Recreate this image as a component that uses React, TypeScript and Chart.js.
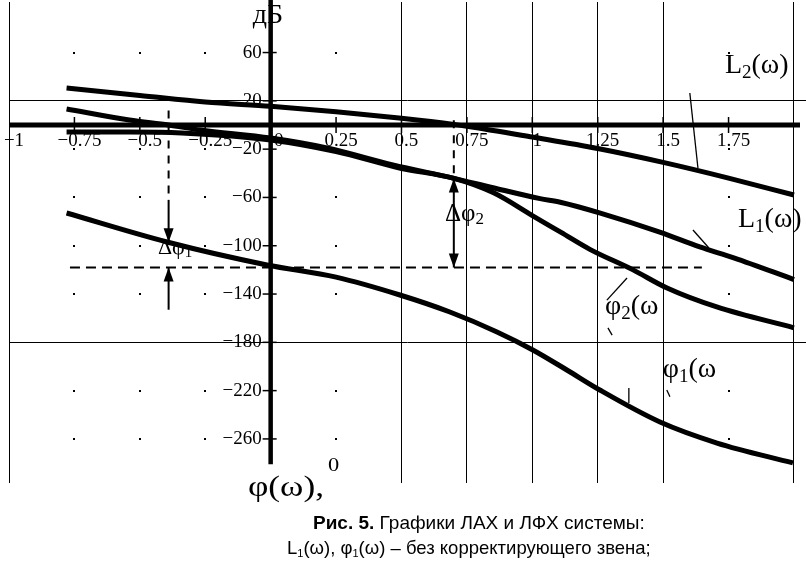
import React, { useEffect, useRef } from 'react';
import { Chart, registerables } from 'chart.js';

Chart.register(...registerables);

// ---- axis ticks ----
const xTicks = [-1, -0.75, -0.5, -0.25, 0, 0.25, 0.5, 0.75, 1, 1.25, 1.5, 1.75, 2];
const xTickLabels = ['−1', '−0.75', '−0.5', '−0.25', '0', '0.25', '0.5', '0.75', '1', '1.25', '1.5', '1.75', ''];
const xGridValues = [-1, 0.5, 0.75, 1, 1.25, 1.5, 2];
const yTicks = [60, 20, -20, -60, -100, -140, -180, -220, -260];
const yTickLabels = ['60', '20', '−20', '−60', '−100', '−140', '−180', '−220', '−260'];
const yGridValues = [20, -180];

// ---- series (x = lg ω) ----
const L2x = [-0.78, -0.5, -0.25, 0, 0.25, 0.5, 0.7, 0.75, 1, 1.25, 1.5, 1.75, 2];
const L2y = [30.6, 24.5, 19, 15.5, 11, 5.5, 0.5, -1, -10, -19.5, -31, -44, -58];

const L1x = [-0.78, -0.54, -0.39, -0.27, 0, 0.215, 0.467, 0.697, 0.85, 1.03, 1.107, 1.26, 1.49, 1.64, 1.77, 2.0];
const L1y = [13.3, 4.1, 0, -4.1, -10.8, -19, -33, -44, -52, -61, -64, -73, -89, -101, -110, -128];

const P2x = [-0.78, -0.54, -0.34, 0, 0.25, 0.5, 0.697, 0.85, 1.0, 1.11, 1.22, 1.385, 1.515, 1.705, 2.0];
const P2y = [-5.8, -5.8, -6.6, -12.4, -22, -36, -44, -56, -75, -89, -103, -120, -135, -150.7, -168];

const P1x = [-0.78, -0.396, -0.014, 0.25, 0.494, 0.685, 0.865, 1.002, 1.132, 1.258, 1.488, 1.706, 1.996];
const P1y = [-72.9, -96.9, -115.9, -126, -140.8, -154.9, -171.4, -186.3, -202.9, -219.5, -246, -263.4, -279.9];

// crossover frequencies and reference phase level
const wc1 = -0.39;
const wc2 = 0.7;
const phiRef = -118;
const refFrom = -0.767;
const refTo = 1.648;

const interp = (xs: number[], ys: number[], v: number) => {
  for (let i = 0; i < xs.length - 1; i++) {
    if (v >= xs[i] && v <= xs[i + 1]) {
      const t = (v - xs[i]) / (xs[i + 1] - xs[i]);
      return ys[i] + t * (ys[i + 1] - ys[i]);
    }
  }
  return ys[ys.length - 1];
};

type Run = { t: string; s: number; dy?: number; dx?: number };
const textLabels: { runs: Run[]; x: number; y: number; sx?: number }[] = [
  { runs: [{ t: 'L', s: 28 }, { t: '2', s: 19, dy: 7 }, { t: '(ω)', s: 28 }], x: 1.736, y: 48.9 },
  { runs: [{ t: 'L', s: 28 }, { t: '1', s: 19, dy: 7 }, { t: '(ω)', s: 28 }], x: 1.786, y: -78.7 },
  { runs: [{ t: 'φ', s: 28 }, { t: '2', s: 19, dy: 7 }, { t: '(ω', s: 28 }], x: 1.278, y: -150.7 },
  { runs: [{ t: 'φ', s: 28 }, { t: '1', s: 19, dy: 7 }, { t: '(ω', s: 28 }], x: 1.499, y: -202.9 },
  { runs: [{ t: 'Δφ', s: 22 }, { t: '1', s: 15, dy: 5 }], x: -0.431, y: -101.9 },
  { runs: [{ t: 'Δφ', s: 25 }, { t: '2', s: 17, dy: 6 }], x: 0.666, y: -73.7 },
  { runs: [{ t: 'дБ', s: 28 }], x: -0.068, y: 90.3 },
  { runs: [{ t: 'φ(ω),', s: 30 }, { t: '0', s: 19, dy: -22, dx: 4 }], x: -0.087, y: -300.6, sx: 1.18 },
];

const leaders = [
  [1.602, 26.5, 1.633, -35.6],
  [1.614, -87, 1.675, -101.9],
  [1.285, -145, 1.362, -126.7],
  [1.289, -168, 1.305, -174],
  [1.369, -217.8, 1.369, -230.2],
  [1.514, -219.5, 1.526, -225],
];

const SERIF = '"Liberation Serif", "Times New Roman", serif';

const decor = {
  id: 'decor',
  afterDraw(chart: any) {
    const { ctx, chartArea } = chart;
    const xs = chart.scales.x;
    const ys = chart.scales.y;
    const px = (v: number) => xs.getPixelForValue(v);
    const py = (v: number) => ys.getPixelForValue(v);
    const x0 = px(0);
    const y0 = py(0);
    ctx.save();
    ctx.fillStyle = '#000';
    ctx.strokeStyle = '#000';

    // grid dots where there is no grid line
    for (const xv of xTicks) {
      if (xGridValues.includes(xv) || xv === 0) continue;
      for (const yv of yTicks) {
        if (yGridValues.includes(yv)) continue;
        ctx.fillRect(Math.round(px(xv)) - 1, Math.round(py(yv)) - 1, 2, 2);
      }
    }

    // axes
    ctx.lineWidth = 4.5;
    ctx.beginPath();
    ctx.moveTo(x0, py(103.5));
    ctx.lineTo(x0, py(-281));
    ctx.stroke();
    ctx.lineWidth = 5;
    ctx.beginPath();
    ctx.moveTo(px(-1), y0);
    ctx.lineTo(chartArea.right - 6, y0);
    ctx.stroke();

    // tick marks
    ctx.lineWidth = 1.5;
    for (const yv of yTicks) {
      ctx.beginPath();
      ctx.moveTo(x0 - 8, py(yv));
      ctx.lineTo(x0 + 6, py(yv));
      ctx.stroke();
    }
    for (const xv of xTicks) {
      if (xv === 0 || xv === -1 || xv === 2) continue;
      ctx.beginPath();
      ctx.moveTo(px(xv), y0 - 8);
      ctx.lineTo(px(xv), y0 + 8);
      ctx.stroke();
    }

    // tick labels
    ctx.font = `19px ${SERIF}`;
    ctx.textBaseline = 'middle';
    ctx.textAlign = 'right';
    yTicks.forEach((yv, i) => ctx.fillText(yTickLabels[i], x0 - 9, py(yv)));
    ctx.textAlign = 'center';
    ctx.textBaseline = 'top';
    xTicks.forEach((xv, i) => {
      const off = xv === 0 ? 8 : 5;
      ctx.fillText(xTickLabels[i], px(xv) + off, y0 + 7);
    });

    // reference phase line
    ctx.lineWidth = 2;
    ctx.setLineDash([10, 6]);
    ctx.beginPath();
    ctx.moveTo(px(refFrom), py(phiRef));
    ctx.lineTo(px(refTo), py(phiRef));
    ctx.stroke();

    const arrow = (xv: number, tipV: number, dir: 1 | -1) => {
      const tx = px(xv);
      const ty = py(tipV);
      ctx.beginPath();
      ctx.moveTo(tx, ty);
      ctx.lineTo(tx - 5, ty - dir * 14);
      ctx.lineTo(tx + 5, ty - dir * 14);
      ctx.closePath();
      ctx.fill();
    };
    const seg = (xv: number, a: number, b: number, dashed: boolean) => {
      ctx.setLineDash(dashed ? [8, 7] : []);
      ctx.beginPath();
      ctx.moveTo(px(xv), py(a));
      ctx.lineTo(px(xv), py(b));
      ctx.stroke();
    };

    // Δφ1
    const p1c = interp(P1x, P1y, wc1);
    seg(wc1, 12, -62, true);
    seg(wc1, -62, p1c, false);
    arrow(wc1, p1c, 1);
    seg(wc1, phiRef, -153, false);
    arrow(wc1, phiRef, -1);

    // Δφ2
    const p2c = interp(P2x, P2y, wc2);
    seg(wc2, 4, p2c + 3, true);
    seg(wc2, p2c, phiRef, false);
    arrow(wc2, p2c, -1);
    arrow(wc2, phiRef, 1);

    // leaders
    ctx.setLineDash([]);
    ctx.lineWidth = 1.3;
    for (const [a, b, c, d] of leaders) {
      ctx.beginPath();
      ctx.moveTo(px(a), py(b));
      ctx.lineTo(px(c), py(d));
      ctx.stroke();
    }

    // text labels
    ctx.textAlign = 'left';
    ctx.textBaseline = 'middle';
    for (const lab of textLabels) {
      const sx = lab.sx ?? 1;
      ctx.save();
      ctx.translate(px(lab.x), py(lab.y));
      ctx.scale(sx, 1);
      let cx = 0;
      for (const r of lab.runs) {
        ctx.font = `${r.s}px ${SERIF}`;
        cx += (r.dx ?? 0) / sx;
        ctx.fillText(r.t, cx, r.dy ?? 0);
        cx += ctx.measureText(r.t).width;
      }
      ctx.restore();
    }
    ctx.restore();
  },
};

export default function App() {
  const ref = useRef<HTMLCanvasElement | null>(null);

  useEffect(() => {
    document.body.style.margin = '0';
    if (!ref.current) return;
    const mk = (xsArr: number[], ysArr: number[]) => ({
      data: xsArr.map((v, i) => ({ x: v, y: ysArr[i] })),
      showLine: true,
      borderColor: '#000',
      backgroundColor: '#000',
      borderWidth: 5,
      pointRadius: 0,
      cubicInterpolationMode: 'monotone' as const,
      fill: false,
    });
    const chart = new Chart(ref.current, {
      type: 'scatter',
      data: {
        datasets: [
          { label: 'L2(ω)', ...mk(L2x, L2y) },
          { label: 'L1(ω)', ...mk(L1x, L1y) },
          { label: 'φ2(ω)', ...mk(P2x, P2y) },
          { label: 'φ1(ω)', ...mk(P1x, P1y) },
        ],
      },
      options: {
        responsive: false,
        animation: false,
        devicePixelRatio: 1,
        layout: { padding: { left: 9, right: 0, top: 2, bottom: 84 } },
        plugins: { legend: { display: false }, tooltip: { enabled: false } },
        scales: {
          x: {
            type: 'linear',
            min: -1,
            max: 2.046,
            afterBuildTicks: (s: any) => {
              s.ticks = xTicks.map((v) => ({ value: v }));
            },
            afterFit: (s: any) => {
              s.height = 0;
            },
            ticks: { display: false },
            border: { display: false },
            grid: {
              drawTicks: false,
              lineWidth: 1,
              color: (c: any) => (c.tick && xGridValues.includes(c.tick.value) ? '#000' : 'rgba(0,0,0,0)'),
            },
          },
          y: {
            type: 'linear',
            min: -296.5,
            max: 101.86,
            afterBuildTicks: (s: any) => {
              s.ticks = yTicks.map((v) => ({ value: v }));
            },
            afterFit: (s: any) => {
              s.width = 0;
            },
            ticks: { display: false },
            border: { display: false },
            grid: {
              drawTicks: false,
              lineWidth: 1,
              color: (c: any) => (c.tick && yGridValues.includes(c.tick.value) ? '#000' : 'rgba(0,0,0,0)'),
            },
          },
        },
      },
      plugins: [decor],
    });
    return () => chart.destroy();
  }, []);

  const cap: React.CSSProperties = {
    position: 'absolute',
    fontFamily: '"Liberation Sans", Arial, sans-serif',
    lineHeight: '22px',
    whiteSpace: 'nowrap',
    color: '#000',
  };

  return (
    <div style={{ position: 'relative', width: 806, height: 567, background: '#fff', overflow: 'hidden' }}>
      <canvas ref={ref} width={806} height={567} style={{ position: 'absolute', left: 0, top: 0 }} />
      <div style={{ ...cap, left: 313, top: 512, fontSize: '19px' }}>
        <b>Рис. 5.</b> Графики ЛАХ и ЛФХ системы:
      </div>
      <div style={{ ...cap, left: 287, top: 537, fontSize: '18.5px' }}>
        L<sub style={{ fontSize: '11px', verticalAlign: '-3px' }}>1</sub>(ω), φ
        <sub style={{ fontSize: '11px', verticalAlign: '-3px' }}>1</sub>(ω) – без корректирующего звена;
      </div>
    </div>
  );
}
